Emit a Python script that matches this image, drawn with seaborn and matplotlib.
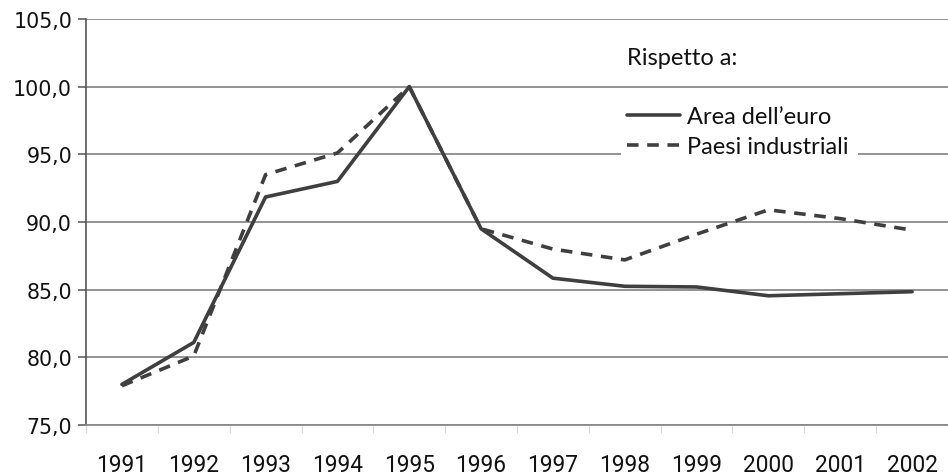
import numpy as np
import pandas as pd
import matplotlib
matplotlib.use("Agg")
import matplotlib.pyplot as plt
import matplotlib.ticker as mticker
from matplotlib.patches import Rectangle
from matplotlib import font_manager
import seaborn as sns

# ---- data ----
anni = ["1991", "1992", "1993", "1994", "1995", "1996",
        "1997", "1998", "1999", "2000", "2001", "2002"]
area_euro = [78.0, 81.1, 91.85, 93.0, 100.0, 89.5,
             85.85, 85.25, 85.2, 84.55, 84.7, 84.85]
paesi_industriali = [77.9, 80.1, 93.5, 95.1, 100.0, 89.5,
                     88.0, 87.2, 89.1, 90.9, 90.25, 89.4]
serie_nomi = ["Area dell\u2019euro", "Paesi industriali"]
titolo_legenda = "Rispetto a:"
y_ticks = [75, 80, 85, 90, 95, 100, 105]

df = pd.DataFrame({
    "pos": list(range(len(anni))) * 2,
    "valore": area_euro + paesi_industriali,
    "serie": [serie_nomi[0]] * len(anni) + [serie_nomi[1]] * len(anni),
})

sns.set_theme(style="white")
plt.rcParams["font.family"] = ["Lato", "DejaVu Sans"]

available = {f.name for f in font_manager.fontManager.ttflist}
narrow = "Liberation Sans Narrow" if "Liberation Sans Narrow" in available else (
    "DejaVu Sans Condensed" if "DejaVu Sans Condensed" in available else "Roboto")

W, H = 948, 477
fig = plt.figure(figsize=(W / 100, H / 100), dpi=100)
left_px, right_px, top_px, bot_px = 86, 948, 20, 426
ax = fig.add_axes([left_px / W, 1 - bot_px / H,
                   (right_px - left_px) / W, (bot_px - top_px) / H])

line_col = "#3f3f3f"
sns.lineplot(data=df, x="pos", y="valore", hue="serie", style="serie",
             palette=[line_col, line_col],
             dashes={serie_nomi[0]: "", serie_nomi[1]: (3.2, 2.4)},
             linewidth=2.6, ax=ax, legend=True, zorder=3)

band = 72.7
ax.set_xlim(-0.5, -0.5 + (right_px - left_px) / band)
ax.set_ylim(75, 105)
ax.set_yticks(y_ticks)
ax.yaxis.set_major_formatter(mticker.FuncFormatter(
    lambda v, p: f"{v:.1f}".replace(".", ",")))
ax.set_xticks(range(len(anni)))
ax.set_xticklabels(anni)
ax.set_xticks(np.arange(-0.5, len(anni), 1.0), minor=True)
ax.set_xlabel("")
ax.set_ylabel("")

ax.grid(axis="y", color="#8a8a8a", linewidth=1.3, zorder=1)
ax.set_axisbelow(True)
for s in ["top", "right"]:
    ax.spines[s].set_visible(False)
ax.spines["left"].set_color("#555555")
ax.spines["left"].set_linewidth(1.2)
ax.spines["bottom"].set_color("#8a8a8a")
ax.spines["bottom"].set_linewidth(1.3)

ax.tick_params(axis="y", which="major", left=True, length=6, width=1.1,
               color="#555555", labelsize=14.8, labelcolor="#111111", pad=4)
ax.tick_params(axis="x", which="major", bottom=False, length=0, labelsize=16.3,
               labelcolor="#111111", pad=20)
ax.tick_params(axis="x", which="minor", bottom=True, length=6, width=0.8,
               color="#d8d8d8")
for lab in ax.get_yticklabels():
    lab.set_family(["DejaVu Sans"])
for lab in ax.get_xticklabels():
    lab.set_family([narrow, "DejaVu Sans"])

# white background behind the second legend row (hides gridline there)
x0 = (627 - 122) / band
x1 = (867 - 122) / band
yb = 105 - (165 - top_px) / 13.53
yt = 105 - (138 - top_px) / 13.53
ax.add_patch(Rectangle((x0, yb), x1 - x0, yt - yb, facecolor="white",
                       edgecolor="none", zorder=2))

handles, labels = ax.get_legend_handles_labels()
leg = ax.legend(handles, labels, loc="upper left",
                bbox_to_anchor=((627 - left_px) / (right_px - left_px),
                                1 - (107 - top_px) / (bot_px - top_px)),
                frameon=False, fontsize=17, handlelength=2.25,
                handletextpad=0.3, labelspacing=0.38, borderpad=0,
                borderaxespad=0)
for t in leg.get_texts():
    t.set_color("#111111")

ax.text((627 - left_px) / (right_px - left_px),
        1 - (58 - top_px) / (bot_px - top_px), titolo_legenda,
        transform=ax.transAxes, fontsize=17, color="#111111",
        ha="left", va="center")

fig.savefig("out.png", dpi=100)
